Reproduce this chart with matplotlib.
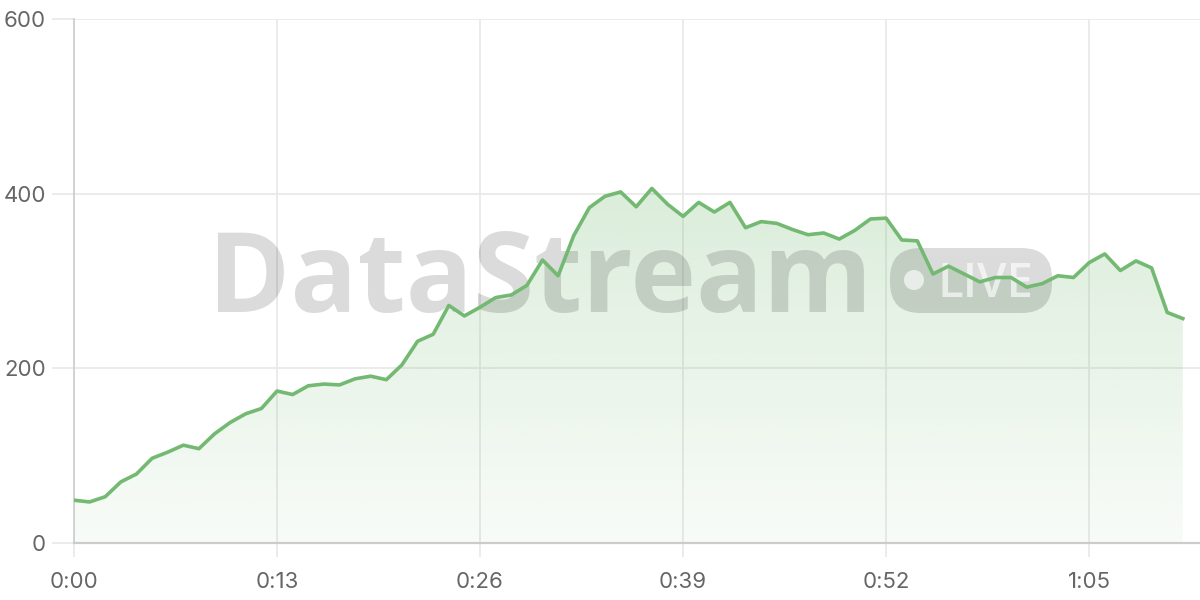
import numpy as np
import matplotlib
matplotlib.use('Agg')
from matplotlib import pyplot as plt
from matplotlib.patches import FancyBboxPatch, Ellipse
from matplotlib.colors import to_rgb

# data (one reading per second)
seconds = list(range(72))
values = [49, 47, 53, 70, 79, 97, 104, 112, 108, 125,
          138, 148, 154, 174, 170, 180, 182, 181, 188, 191,
          187, 204, 231, 239, 272, 260, 270, 281, 284, 295,
          324, 306, 352, 384, 397, 402, 385, 406, 388, 374,
          390, 379, 390, 361, 368, 366, 359, 353, 355, 348,
          358, 371, 372, 347, 346, 308, 317, 308, 299, 304,
          304, 293, 297, 306, 304, 321, 331, 312, 323, 315,
          264, 257]
tick_pos = [0, 13, 26, 39, 52, 65]
tick_labels = ['0:00', '0:13', '0:26', '0:39', '0:52', '1:05']
y_ticks = [0, 200, 400, 600]

LINE = '#73b972'
GRID = '#e8e8e8'
AXIS = '#cccccc'
TEXT = '#666666'

plt.rcParams['font.family'] = ['Inter', 'DejaVu Sans']

fig = plt.figure(figsize=(12, 6), dpi=100)
ax = fig.add_axes([74 / 1200, 57 / 600, 1126 / 1200, 524 / 600])
ax.set_xlim(0, 72.1)
ax.set_ylim(0, 600)

# gradient fill under the line
fill = ax.fill_between(seconds, values, 0, facecolor='none', edgecolor='none')
r, g, b = to_rgb(LINE)
grad = np.zeros((256, 1, 4))
grad[:, 0, 0], grad[:, 0, 1], grad[:, 0, 2] = r, g, b
grad[:, 0, 3] = np.linspace(0.05, 0.26, 256)
img = ax.imshow(grad, extent=[0, 72.1, 0, 410], origin='lower', aspect='auto', zorder=1)
img.set_clip_path(fill.get_paths()[0], transform=ax.transData)

# watermark
ax.text(0.119, 0.4408, 'DataStream', transform=ax.transAxes, fontsize=80,
        fontweight='bold', family='Open Sans', color='black', alpha=0.14,
        ha='left', va='baseline', zorder=2)
pill = FancyBboxPatch((0.7247, 0.4389), 0.1439, 0.124,
                      boxstyle='round,pad=0,rounding_size=0.027',
                      mutation_aspect=1126 / 524, transform=ax.transAxes,
                      facecolor='black', edgecolor='none', alpha=0.14, zorder=2)
ax.add_patch(pill)
ax.add_patch(Ellipse(((914 - 74) / 1126, (543 - 280) / 524), 20 / 1126, 20 / 524,
                     transform=ax.transAxes, facecolor='white', edgecolor='none',
                     alpha=0.65, zorder=2))
ax.text((937 - 74) / 1126, (543 - 297) / 524, 'LIVE', transform=ax.transAxes,
        fontsize=34, fontweight='semibold', family='Open Sans', color='white',
        alpha=0.65, ha='left', va='baseline', zorder=2)

ax.plot(seconds, values, color=LINE, lw=2.6, solid_joinstyle='round', zorder=3)

ax.set_xticks(tick_pos)
ax.set_xticklabels(tick_labels)
ax.set_yticks(y_ticks)
ax.grid(True, color=GRID, lw=1.2, zorder=0)
ax.set_axisbelow(True)
ax.tick_params(axis='x', length=10, width=1.2, color=GRID, pad=11, labelsize=16, labelcolor=TEXT)
ax.tick_params(axis='y', length=16, width=1.2, color=GRID, pad=4, labelsize=16, labelcolor=TEXT)

for s in ['top', 'right']:
    ax.spines[s].set_visible(False)
ax.spines['left'].set_color(AXIS)
ax.spines['left'].set_linewidth(1.2)
ax.spines['bottom'].set_color(AXIS)
ax.spines['bottom'].set_linewidth(1.6)

fig.savefig('out.png', dpi=100)
